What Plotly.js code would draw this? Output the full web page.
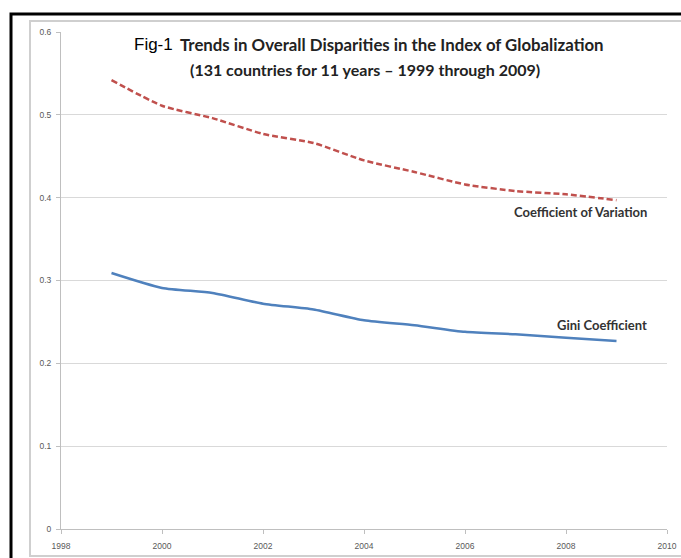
<!DOCTYPE html>
<html>
<head>
<meta charset="utf-8">
<script src="https://cdn.plot.ly/plotly-3.0.1.min.js"></script>
<style>html,body{margin:0;padding:0;background:#fff;}#chart{width:681px;height:558px;}</style>
</head>
<body>
<div id="chart"></div>
<script>
const years = [1999, 2000, 2001, 2002, 2003, 2004, 2005, 2006, 2007, 2008, 2009];
const coefVariation = [0.542, 0.511, 0.496, 0.477, 0.466, 0.445, 0.431, 0.416, 0.408, 0.404, 0.397];
const giniCoefficient = [0.309, 0.291, 0.285, 0.272, 0.265, 0.252, 0.246, 0.238, 0.235, 0.231, 0.227];
const xTicks = [1998, 2000, 2002, 2004, 2006, 2008, 2010];
const yTicks = [0, 0.1, 0.2, 0.3, 0.4, 0.5, 0.6];
const yTickLabels = ['0', '0.1', '0.2', '0.3', '0.4', '0.5', '0.6'];

const W = 681, H = 558;
const L = 61, R = 14, T = 32, B = 29;
const pw = W - L - R, ph = H - T - B;
const px = v => (v - L) / pw;
const py = v => (H - B - v) / ph;

const traces = [
  {x: years, y: coefVariation, type: 'scatter', mode: 'lines',
   line: {color: '#c0504d', width: 2.5, dash: '6px,3px', shape: 'spline', smoothing: 0.6},
   hoverinfo: 'skip', showlegend: false},
  {x: years, y: giniCoefficient, type: 'scatter', mode: 'lines',
   line: {color: '#4f81bd', width: 2.5, shape: 'spline', smoothing: 0.6},
   hoverinfo: 'skip', showlegend: false}
];

const tickFont = {family: 'Liberation Sans, Arial, sans-serif', size: 8.5, color: '#595959'};
const layout = {
  width: W, height: H,
  margin: {l: L, r: R, t: T, b: B, pad: 0},
  paper_bgcolor: '#ffffff', plot_bgcolor: '#ffffff',
  showlegend: false,
  xaxis: {range: [1998, 2010], tickvals: xTicks, ticktext: xTicks.map(String),
    ticks: 'outside', ticklen: 4, tickcolor: '#bfbfbf', showgrid: false,
    showline: true, linecolor: '#bfbfbf', linewidth: 1, zeroline: false,
    tickfont: tickFont, ticklabelstandoff: 5, fixedrange: true},
  yaxis: {range: [0, 0.6], tickvals: yTicks, ticktext: yTickLabels,
    ticks: 'outside', ticklen: 4, tickcolor: '#bfbfbf', showgrid: true,
    gridcolor: '#d9d9d9', gridwidth: 1.3,
    showline: true, linecolor: '#bfbfbf', linewidth: 1, zeroline: false,
    tickfont: tickFont, ticklabelstandoff: 3, fixedrange: true},
  shapes: [
    {type: 'rect', xref: 'paper', yref: 'paper', x0: px(11), x1: px(720), y0: py(600), y1: py(14),
     line: {color: '#000000', width: 3}, layer: 'below'},
    {type: 'rect', xref: 'paper', yref: 'paper', x0: px(30), x1: px(720), y0: py(556), y1: py(21),
     line: {color: '#cfcfcf', width: 2}, layer: 'below'}
  ],
  annotations: [
    {xref: 'paper', yref: 'paper', x: px(175), y: py(45), xanchor: 'right', yanchor: 'middle',
     text: 'Fig-1', showarrow: false,
     font: {family: 'Liberation Sans, Arial, sans-serif', size: 17, color: '#000000'}},
    {xref: 'paper', yref: 'paper', x: px(178), y: py(44), xanchor: 'left', yanchor: 'middle',
     text: '<b>Trends in Overall Disparities in the Index of Globalization</b>', showarrow: false,
     font: {family: 'Lato, sans-serif', size: 16.8, color: '#222222'}},
    {xref: 'paper', yref: 'paper', x: px(365), y: py(69), xanchor: 'center', yanchor: 'middle',
     text: '<b>(131 countries for 11 years \u2013 1999 through 2009)</b>', showarrow: false,
     font: {family: 'Lato, sans-serif', size: 16, color: '#222222'}},
    {xref: 'paper', yref: 'paper', x: px(512), y: py(212), xanchor: 'left', yanchor: 'middle',
     text: '<b>Coefficient of Variation</b>', showarrow: false,
     font: {family: 'Lato, sans-serif', size: 13, color: '#333333'}},
    {xref: 'paper', yref: 'paper', x: px(555), y: py(325), xanchor: 'left', yanchor: 'middle',
     text: '<b>Gini Coefficient</b>', showarrow: false,
     font: {family: 'Lato, sans-serif', size: 13, color: '#333333'}}
  ]
};

Plotly.newPlot('chart', traces, layout, {displayModeBar: false, staticPlot: true});
</script>
</body>
</html>
